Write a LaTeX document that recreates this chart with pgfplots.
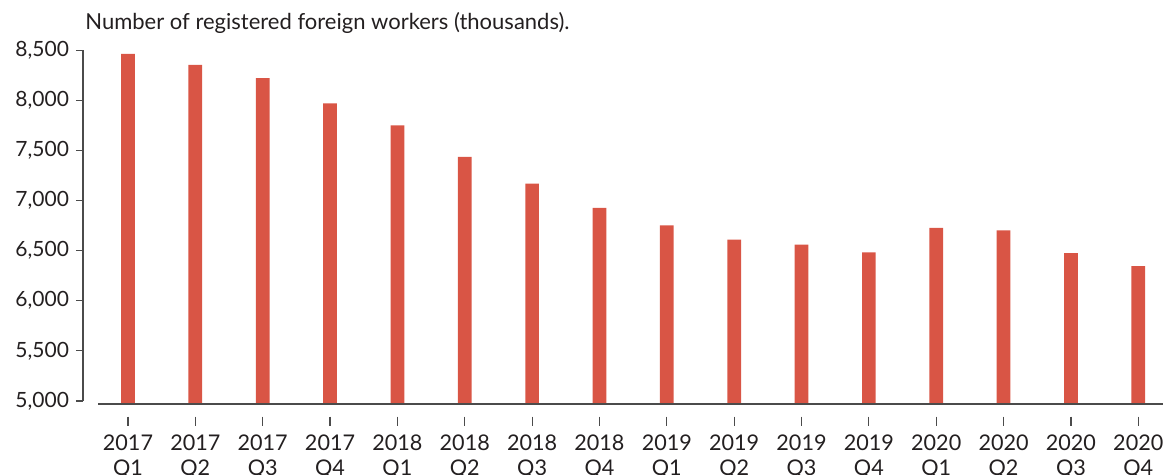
\documentclass[border=0pt]{standalone}
\usepackage{fontspec}
\setmainfont{Lato}
\usepackage{pgfplots}
\pgfplotsset{compat=1.18}
\definecolor{barred}{RGB}{217,85,69}
\definecolor{txt}{RGB}{35,31,32}
\definecolor{axc}{RGB}{75,75,75}
\begin{document}
\begin{tikzpicture}
\useasboundingbox (0,0) rectangle (581.5pt,237.5pt);
\begin{axis}[
  at={(41.5pt,35.25pt)}, anchor=south west,
  scale only axis, width=540pt, height=177.1pt,
  xmin=-0.668, xmax=15.367, ymin=4965, ymax=8500,
  axis x line*=bottom, axis y line*=left,
  axis line style={draw=none},
  clip mode=individual,
  ytick={5000,5500,...,8500},
  /pgf/number format/.cd, 1000 sep={,}, assume math mode=true, /pgfplots/.cd,
  xtick={0,...,15},
  xticklabels={{2017\\Q1},{2017\\Q2},{2017\\Q3},{2017\\Q4},{2018\\Q1},{2018\\Q2},{2018\\Q3},{2018\\Q4},{2019\\Q1},{2019\\Q2},{2019\\Q3},{2019\\Q4},{2020\\Q1},{2020\\Q2},{2020\\Q3},{2020\\Q4}},
  tick align=outside,
  major tick length=3.5pt,
  xtick style={draw opacity=0},
  ytick style={axc, line width=0.6pt},
  xticklabel style={align=center, font=\fontsize{10.8}{12.5}\selectfont, text=txt, yshift=-8pt},
  yticklabel style={font=\fontsize{10.5}{12}\selectfont, text=txt},
  ybar, bar width=6.85pt,
]
\addplot[fill=barred, draw=none] coordinates {
(0,8465) (1,8354) (2,8221) (3,7969) (4,7750) (5,7435) (6,7170) (7,6928)
(8,6752) (9,6610) (10,6560) (11,6483) (12,6727) (13,6703) (14,6476) (15,6347)
};
\draw[axc, line width=1pt] (axis cs:-0.668,5000) -- (axis cs:-0.668,8500);
\draw[axc, line width=1pt] (axis cs:-0.441,4965) -- (axis cs:15.367,4965);
\end{axis}
% hide the part of the x tick marks next to the axis line
\fill[white] (49pt,30.5pt) rectangle (581.5pt,34.6pt);
\begin{axis}[
  at={(41.5pt,35.25pt)}, anchor=south west,
  scale only axis, width=540pt, height=177.1pt,
  xmin=-0.668, xmax=15.367, ymin=4965, ymax=8500,
  hide axis, clip=false,
]
\pgfplotsinvokeforeach{0,...,15}{
  \draw[axc, line width=0.6pt] (axis cs:#1,4845) -- (axis cs:#1,4755);
}
\end{axis}
\node[anchor=west, inner sep=0pt, font=\fontsize{11}{13}\selectfont, text=txt] at (42.5pt,226pt) {Number of registered foreign workers (thousands).};
\end{tikzpicture}
\end{document}
